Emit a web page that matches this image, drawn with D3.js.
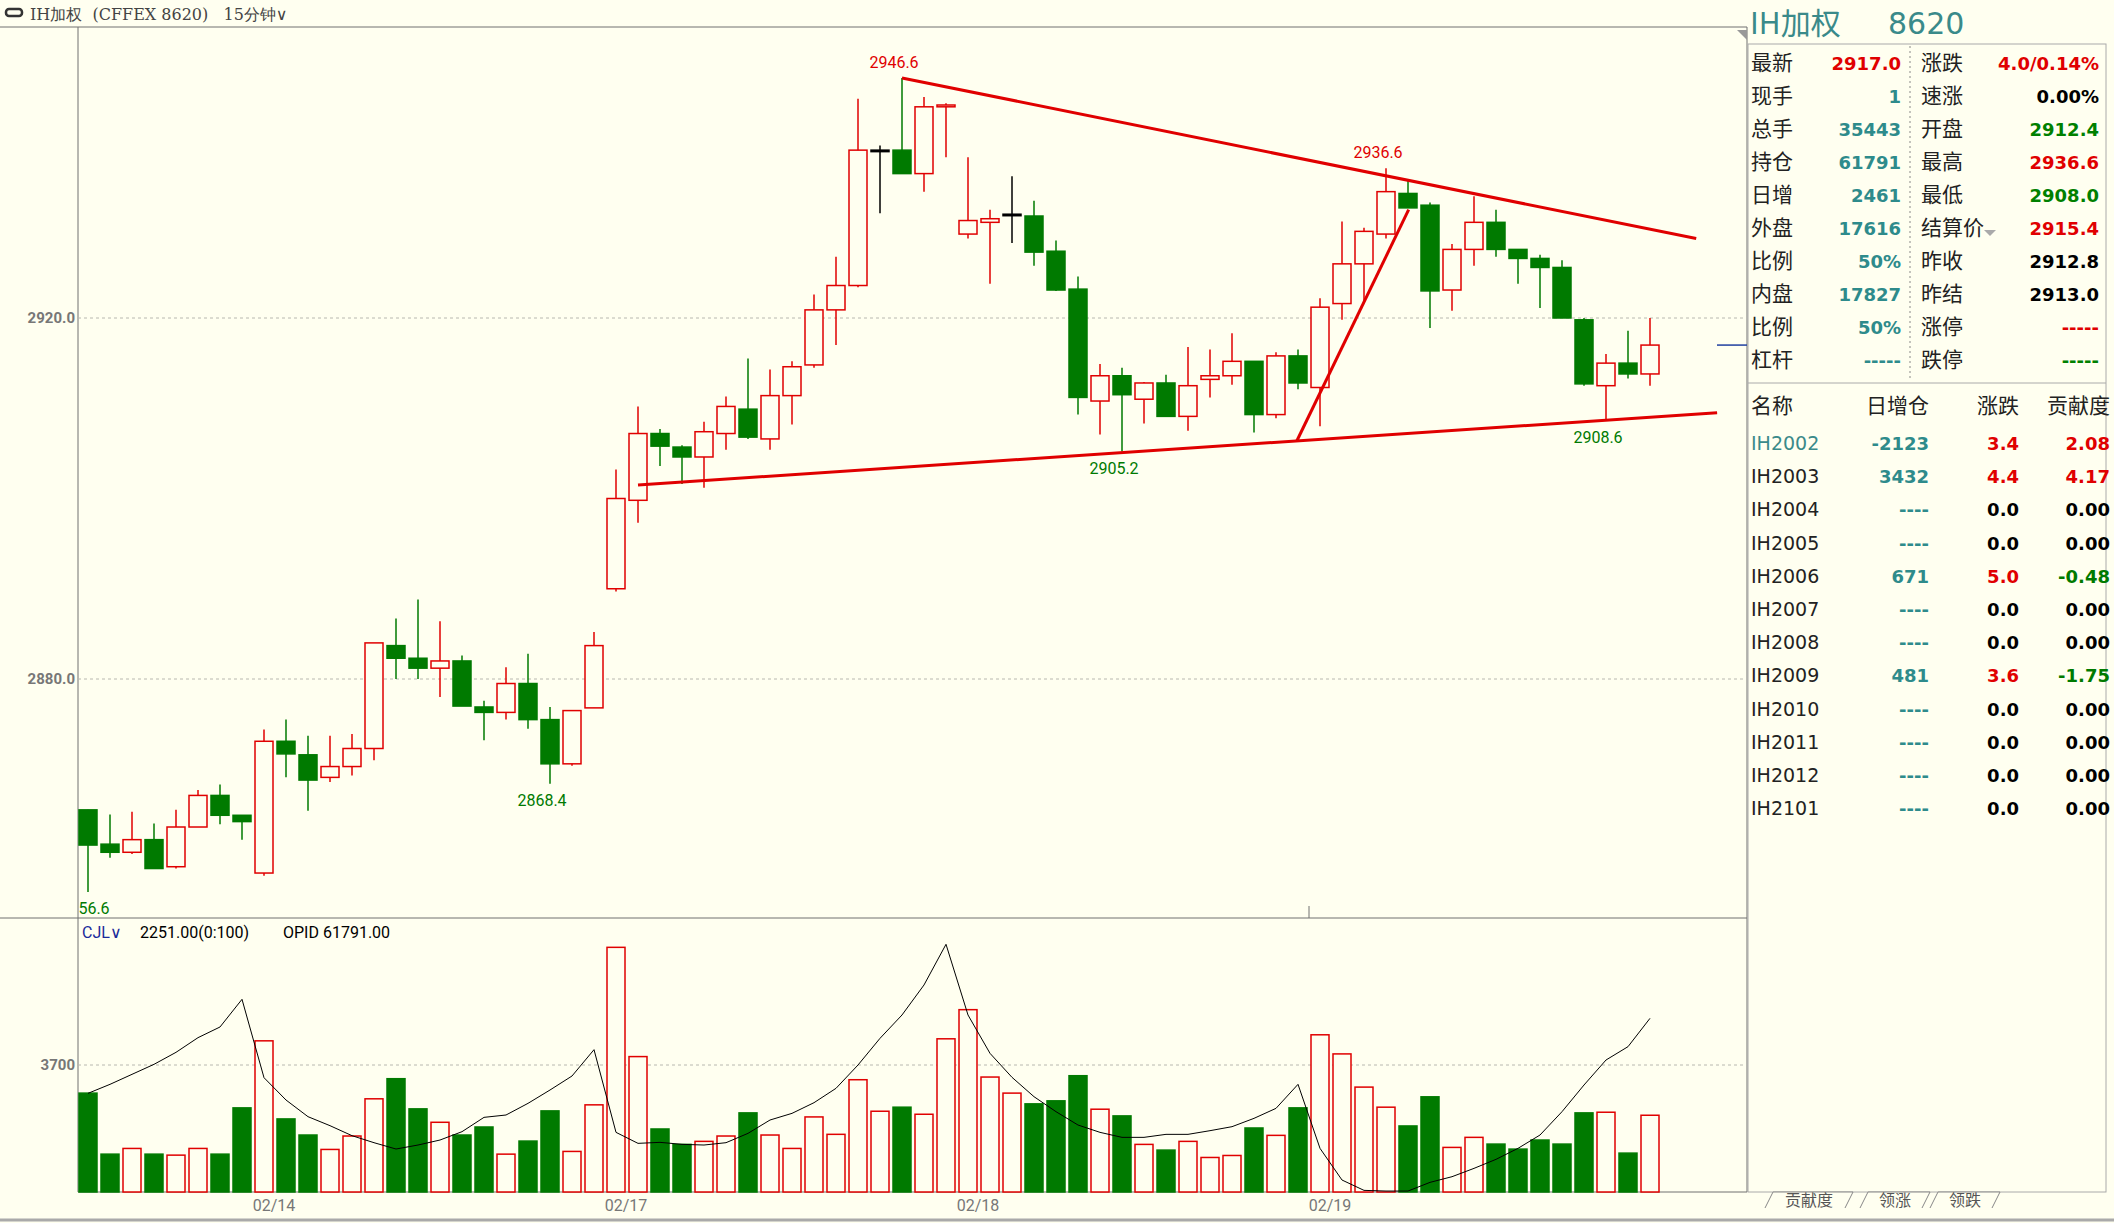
<!DOCTYPE html>
<html>
<head>
<meta charset="utf-8">
<script src="https://cdn.jsdelivr.net/npm/d3@7"></script>
<style>
  body { margin: 0; background: #fffff0; overflow: hidden; }
  svg { display: block; }
</style>
</head>
<body>
<svg id="chart" width="2114" height="1223"></svg>
<script>
// 15-minute bars
const opens  = [2865.5,2861.7,2860.8,2862.2,2859.2,2863.6,2867.1,2864.9,2858.5,2873.1,2871.6,2869.1,2870.3,2872.3,2883.7,2882.3,2881.2,2882.0,2876.9,2876.3,2879.5,2875.5,2870.6,2876.8,
                2890.0,2899.8,2907.2,2905.7,2904.6,2907.2,2909.9,2906.6,2911.4,2914.8,2920.9,2923.6,2938.6,2938.6,2936.0,2943.4,
                2929.3,2930.6,2931.5,2931.3,2927.4,2923.2,2910.8,2913.6,2911.0,2912.8,2909.1,2913.2,2913.6,2915.2,2909.3,2915.8,
                2912.3,2921.6,2926.0,2929.3,2933.8,2932.5,2923.1,2927.6,2930.6,2927.6,2926.6,2925.6,2919.8,2912.5,2915.0,2913.8];
const highs  = [2865.5,2865.0,2865.3,2864.0,2865.5,2867.7,2868.3,2864.9,2874.4,2875.5,2873.7,2873.7,2873.9,2884.0,2886.7,2888.8,2886.4,2882.6,2877.6,2881.3,2882.8,2876.9,2876.5,2885.2,
                2903.2,2910.2,2907.7,2905.9,2908.5,2911.3,2915.5,2914.3,2915.2,2922.6,2926.8,2944.3,2939.1,2946.6,2944.5,2943.8,
                2937.8,2932.0,2935.7,2933.0,2928.6,2924.6,2914.9,2914.5,2912.9,2913.7,2916.8,2916.5,2918.3,2915.2,2916.2,2916.5,
                2922.2,2930.7,2930.0,2936.6,2935.2,2932.8,2928.2,2933.5,2932.0,2927.6,2927.0,2926.4,2920.0,2916.0,2918.6,2920.0];
const lows   = [2856.4,2860.2,2860.6,2859.0,2859.0,2863.6,2863.9,2862.2,2858.2,2869.1,2865.4,2868.6,2869.3,2871.0,2880.0,2880.0,2878.0,2877.0,2873.2,2875.5,2874.5,2868.4,2870.4,2876.8,
                2889.7,2897.3,2903.6,2901.6,2901.2,2905.4,2906.6,2905.4,2908.2,2914.5,2917.0,2923.4,2931.6,2936.0,2934.0,2937.8,
                2928.8,2923.8,2928.3,2925.8,2923.0,2909.3,2907.1,2905.2,2908.3,2909.1,2907.5,2911.2,2912.6,2907.3,2908.9,2912.1,
                2908.0,2919.8,2921.7,2928.8,2932.2,2918.9,2920.8,2925.8,2926.8,2923.8,2921.1,2920.0,2912.5,2908.6,2913.3,2912.5];
const closes = [2861.6,2860.8,2862.2,2859.0,2863.6,2867.1,2864.9,2864.2,2873.1,2871.7,2868.8,2870.3,2872.3,2884.0,2882.3,2881.2,2882.0,2877.0,2876.3,2879.5,2875.5,2870.6,2876.5,2883.7,
                2900.0,2907.2,2905.8,2904.6,2907.4,2910.2,2906.8,2911.4,2914.6,2920.9,2923.6,2938.6,2938.6,2936.0,2943.4,2943.6,
                2930.8,2931.0,2931.5,2927.3,2923.1,2911.2,2913.6,2911.5,2912.8,2909.1,2912.5,2913.6,2915.2,2909.3,2915.8,2912.8,
                2921.2,2926.0,2929.6,2934.0,2932.2,2923.0,2927.6,2930.6,2927.6,2926.6,2925.6,2920.0,2912.7,2915.0,2913.8,2917.0];
const volumes = [2881,1103,1269,1103,1074,1269,1103,2451,4404,2129,1660,1240,1631,2715,3301,2422,2031,1660,1894,1103,1484,2363,1182,2539,
                 7128,3945,1836,1387,1475,1631,2305,1660,1269,2187,1680,3271,2353,2471,2265,4463,
                 5312,3349,2881,2568,2656,3388,2412,2217,1387,1221,1475,1006,1064,1865,1650,2451,
                 4580,4023,3056,2471,1924,2773,1299,1592,1396,1250,1514,1396,2305,2324,1133,2236];
const openInterest = [59541,59811,60111,60411,60771,61211,61531,62361,60011,59341,58841,58571,58271,58061,57871,57991,58141,58391,58821,58891,59241,59641,60061,60851,
                      58371,58041,58071,58011,57991,58061,58341,58741,58941,59261,59691,60391,61191,61891,62791,64011,
                      61891,60741,60021,59441,58991,58591,58371,58221,58221,58311,58311,58421,58541,58791,59091,59811,
                      57891,56941,56631,56611,56611,56871,57041,57291,57561,57891,58291,58991,59791,60541,60941,61791];
const dayLabels = ["02/14","02/17","02/18","02/19"];
const dayStarts = [8, 24, 40, 56];
const priceTicks = [2880, 2920];
const volTicks = [3700];
// drawn trend lines: [barIndex, price]
const trendLines = [
  [[37, 2946.6], [73.1, 2928.8]],
  [[25.0, 2901.5], [74.05, 2909.5]],
  [[54.95, 2906.4], [60.03, 2932.0]]
];
const peakMarks = [
  {i: 37, p: 2946.6, text: "2946.6", up: true},
  {i: 59, p: 2936.6, text: "2936.6", up: true},
  {i: 47, p: 2905.2, text: "2905.2", up: false},
  {i: 69, p: 2908.6, text: "2908.6", up: false},
  {i: 21, p: 2868.4, text: "2868.4", up: false},
  {i: 0, p: 2856.4, text: "56.6", up: false}
];
const quoteLeft = [["最新","2917.0","#e00000"],["现手","1","#2e8b8b"],["总手","35443","#2e8b8b"],["持仓","61791","#2e8b8b"],["日增","2461","#2e8b8b"],
                   ["外盘","17616","#2e8b8b"],["比例","50%","#2e8b8b"],["内盘","17827","#2e8b8b"],["比例","50%","#2e8b8b"],["杠杆","-----","#2e8b8b"]];
const quoteRight = [["涨跌","4.0/0.14%","#e00000"],["速涨","0.00%","#000"],["开盘","2912.4","#008000"],["最高","2936.6","#e00000"],["最低","2908.0","#008000"],
                    ["结算价","2915.4","#e00000"],["昨收","2912.8","#000"],["昨结","2913.0","#000"],["涨停","-----","#e00000"],["跌停","-----","#008000"]];
const contracts = ["IH2002","IH2003","IH2004","IH2005","IH2006","IH2007","IH2008","IH2009","IH2010","IH2011","IH2012","IH2101"];
const oiChange  = ["-2123","3432","----","----","671","----","----","481","----","----","----","----"];
const change    = ["3.4","4.4","0.0","0.0","5.0","0.0","0.0","3.6","0.0","0.0","0.0","0.0"];
const contrib   = ["2.08","4.17","0.00","0.00","-0.48","0.00","0.00","-1.75","0.00","0.00","0.00","0.00"];

const RED = "#e00000", GREEN = "#007a00", GRID = "#b8b8b0", AX = "#707070";
const svg = d3.select("#chart");
const left = 78, right = 1747;

const x = d3.scaleLinear().domain([0, 71]).range([88, 1650]);
const y = d3.scaleLinear().domain([2880, 2920]).range([679, 318]);
const yv = d3.scaleLinear().domain([0, 3700]).range([1192, 1065]);
const yo = d3.scaleLinear().domain([56591, 64791]).range([1191.7, 918.3]);
const bw = 18;

// header bar
svg.append("rect").attr("x", 6).attr("y", 9).attr("width", 16).attr("height", 7).attr("rx", 3).attr("fill", "none").attr("stroke", "#333").attr("stroke-width", 2.5);
svg.append("text").attr("x", 30).attr("y", 20).attr("font-family", "'DejaVu Serif', serif").attr("font-size", 16).attr("fill", "#444")
  .attr("xml:space", "preserve").text("IH加权  (CFFEX 8620)   15分钟∨");
svg.append("line").attr("x1", 0).attr("x2", right).attr("y1", 27).attr("y2", 27).attr("stroke", AX);

// frames
svg.append("line").attr("x1", left).attr("x2", left).attr("y1", 27).attr("y2", 1192).attr("stroke", AX);
svg.append("line").attr("x1", right).attr("x2", right).attr("y1", 27).attr("y2", 1192).attr("stroke", AX);
svg.append("line").attr("x1", 0).attr("x2", right).attr("y1", 918).attr("y2", 918).attr("stroke", AX);
svg.append("line").attr("x1", left).attr("x2", right).attr("y1", 1192).attr("y2", 1192).attr("stroke", AX);
svg.append("line").attr("x1", 0).attr("x2", 2114).attr("y1", 1220).attr("y2", 1220).attr("stroke", "#aaa").attr("stroke-width", 3);
svg.append("line").attr("x1", 1309).attr("x2", 1309).attr("y1", 906).attr("y2", 918).attr("stroke", AX);

// price grid + ticks
priceTicks.forEach(t => {
  svg.append("line").attr("x1", left).attr("x2", right).attr("y1", y(t)).attr("y2", y(t))
    .attr("stroke", GRID).attr("stroke-dasharray", "3,3");
  svg.append("text").attr("x", left - 3).attr("y", y(t) + 5).attr("text-anchor", "end")
    .attr("font-family", "Roboto, Arial").attr("font-weight", "bold").attr("font-size", 15).attr("fill", "#777").text(t.toFixed(1));
});
volTicks.forEach(t => {
  svg.append("line").attr("x1", left).attr("x2", right).attr("y1", yv(t)).attr("y2", yv(t))
    .attr("stroke", GRID).attr("stroke-dasharray", "3,3");
  svg.append("text").attr("x", left - 3).attr("y", yv(t) + 5).attr("text-anchor", "end")
    .attr("font-family", "Roboto, Arial").attr("font-weight", "bold").attr("font-size", 15).attr("fill", "#777").text(t);
});

// candles
const idx = d3.range(opens.length);
const col = i => closes[i] > opens[i] ? RED : (closes[i] < opens[i] ? GREEN : "#000");
const g = svg.append("g");
g.selectAll("line.wick").data(idx).join("line")
  .attr("x1", i => x(i)).attr("x2", i => x(i))
  .attr("y1", i => y(highs[i])).attr("y2", i => y(lows[i]))
  .attr("stroke", col).attr("stroke-width", 1.5);
g.selectAll("rect.body").data(idx).join("rect")
  .attr("x", i => x(i) - bw / 2)
  .attr("y", i => y(Math.max(opens[i], closes[i])))
  .attr("width", bw)
  .attr("height", i => Math.max(1.5, Math.abs(y(opens[i]) - y(closes[i]))))
  .attr("fill", i => closes[i] > opens[i] ? "#fffff0" : col(i))
  .attr("stroke", col).attr("stroke-width", 1.5);

// trend lines
trendLines.forEach(l => {
  svg.append("line").attr("x1", x(l[0][0])).attr("y1", y(l[0][1])).attr("x2", x(l[1][0])).attr("y2", y(l[1][1]))
    .attr("stroke", "#e00000").attr("stroke-width", 3);
});
// current price marker
svg.append("line").attr("x1", 1717).attr("x2", right).attr("y1", y(closes[closes.length - 1])).attr("y2", y(closes[closes.length - 1]))
  .attr("stroke", "#2040a0").attr("stroke-width", 1.5);

peakMarks.forEach(m => {
  const lx = m.i === 0 ? x(m.i) + 6 : x(m.i) - 8;
  svg.append("text").attr("x", lx).attr("y", m.up ? y(m.p) - 10 : y(m.p) + 22)
    .attr("text-anchor", "middle").attr("font-family", "Roboto, Arial").attr("font-size", 16)
    .attr("fill", m.up ? RED : GREEN).text(m.text);
});

// volume header
const vh = svg.append("text").attr("x", 82).attr("y", 938).attr("font-family", "Roboto, Arial").attr("font-size", 16).attr("xml:space", "preserve");
vh.append("tspan").attr("fill", "#1a2a9a").text("CJL∨");
vh.append("tspan").attr("x", 140).attr("fill", "#000").text("2251.00(0:100)");
vh.append("tspan").attr("x", 283).attr("fill", "#000").text("OPID 61791.00");

// volume bars
svg.append("g").selectAll("rect").data(idx).join("rect")
  .attr("x", i => x(i) - bw / 2).attr("y", i => yv(volumes[i]))
  .attr("width", bw).attr("height", i => yv(0) - yv(volumes[i]))
  .attr("fill", i => closes[i] >= opens[i] ? "#fffff0" : GREEN)
  .attr("stroke", i => closes[i] >= opens[i] ? RED : GREEN).attr("stroke-width", 1.5);

// open interest line
svg.append("path").datum(idx)
  .attr("d", d3.line().x(i => x(i)).y(i => yo(openInterest[i])))
  .attr("fill", "none").attr("stroke", "#000").attr("stroke-width", 1);

// date labels
dayStarts.forEach((s, k) => {
  svg.append("text").attr("x", x(s) + 10).attr("y", 1211).attr("text-anchor", "middle")
    .attr("font-family", "Roboto, Arial").attr("font-size", 16).attr("fill", "#777").text(dayLabels[k]);
});

// right panel
const rp = svg.append("g");
const CJK = "'Noto Sans CJK SC', sans-serif";
const NUM = "'DejaVu Sans', Verdana, sans-serif";
rp.append("polygon").attr("points", "1737,30 1747,30 1747,40").attr("fill", "#999");
rp.append("text").attr("x", 1750).attr("y", 34).attr("font-family", CJK).attr("font-size", 30).attr("fill", "#3a8a8a").text("IH加权");
rp.append("text").attr("x", 1888).attr("y", 34).attr("font-family", NUM).attr("font-size", 30).attr("fill", "#3a8a8a").text("8620");
rp.append("rect").attr("x", 1748).attr("y", 44).attr("width", 358).attr("height", 1148).attr("fill", "none").attr("stroke", "#aaa");
rp.append("line").attr("x1", 1910).attr("x2", 1910).attr("y1", 46).attr("y2", 378).attr("stroke", "#888").attr("stroke-dasharray", "2,3");
rp.append("line").attr("x1", 1748).attr("x2", 2106).attr("y1", 383).attr("y2", 383).attr("stroke", "#aaa");
const rowY = i => 70 + i * 33;
quoteLeft.forEach((r, i) => {
  rp.append("text").attr("x", 1751).attr("y", rowY(i)).attr("font-family", CJK).attr("font-size", 21).attr("fill", "#222").text(r[0]);
  rp.append("text").attr("x", 1901).attr("y", rowY(i)).attr("text-anchor", "end").attr("font-family", NUM).attr("font-weight", "bold").attr("font-size", 18).attr("fill", r[2]).text(r[1]);
});
quoteRight.forEach((r, i) => {
  rp.append("text").attr("x", 1921).attr("y", rowY(i)).attr("font-family", CJK).attr("font-size", 21).attr("fill", "#222").text(r[0]);
  rp.append("text").attr("x", 2099).attr("y", rowY(i)).attr("text-anchor", "end").attr("font-family", NUM).attr("font-weight", "bold").attr("font-size", 18).attr("fill", r[2]).text(r[1]);
});
rp.append("polygon").attr("points", "1984,230 1996,230 1990,236").attr("fill", "#aaa");
const hdrY = 413;
[["名称", 1751, "start"], ["日增仓", 1929, "end"], ["涨跌", 2019, "end"], ["贡献度", 2110, "end"]].forEach(h => {
  rp.append("text").attr("x", h[1]).attr("y", hdrY).attr("text-anchor", h[2]).attr("font-family", CJK).attr("font-size", 21).attr("fill", "#222").text(h[0]);
});
const numCol = v => v.startsWith("-") && v !== "----" ? GREEN : (+v > 0 ? RED : "#000");
contracts.forEach((c, i) => {
  const yy = 450 + i * 33.2;
  rp.append("text").attr("x", 1751).attr("y", yy).attr("font-family", NUM).attr("font-size", 19).attr("fill", i === 0 ? "#3a8a8a" : "#222").text(c);
  rp.append("text").attr("x", 1929).attr("y", yy).attr("text-anchor", "end").attr("font-family", NUM).attr("font-weight", "bold").attr("font-size", 18).attr("fill", "#2e8b8b").text(oiChange[i]);
  rp.append("text").attr("x", 2019).attr("y", yy).attr("text-anchor", "end").attr("font-family", NUM).attr("font-weight", "bold").attr("font-size", 18).attr("fill", +change[i] > 0 ? RED : "#000").text(change[i]);
  rp.append("text").attr("x", 2110).attr("y", yy).attr("text-anchor", "end").attr("font-family", NUM).attr("font-weight", "bold").attr("font-size", 18).attr("fill", numCol(contrib[i])).text(contrib[i]);
});
// bottom tabs
[["贡献度", 1765], ["领涨", 1860], ["领跌", 1930]].forEach((t, k) => {
  const w = k === 0 ? 88 : 70;
  rp.append("path").attr("d", `M${t[1]},1208 L${t[1] + 8},1192 L${t[1] + w},1192 L${t[1] + w - 8},1208`)
    .attr("fill", "#fffff0").attr("stroke", "#888");
  rp.append("text").attr("x", t[1] + w / 2).attr("y", 1206).attr("text-anchor", "middle").attr("font-family", CJK).attr("font-size", 16).attr("fill", "#555").text(t[0]);
});
</script>
</body>
</html>
